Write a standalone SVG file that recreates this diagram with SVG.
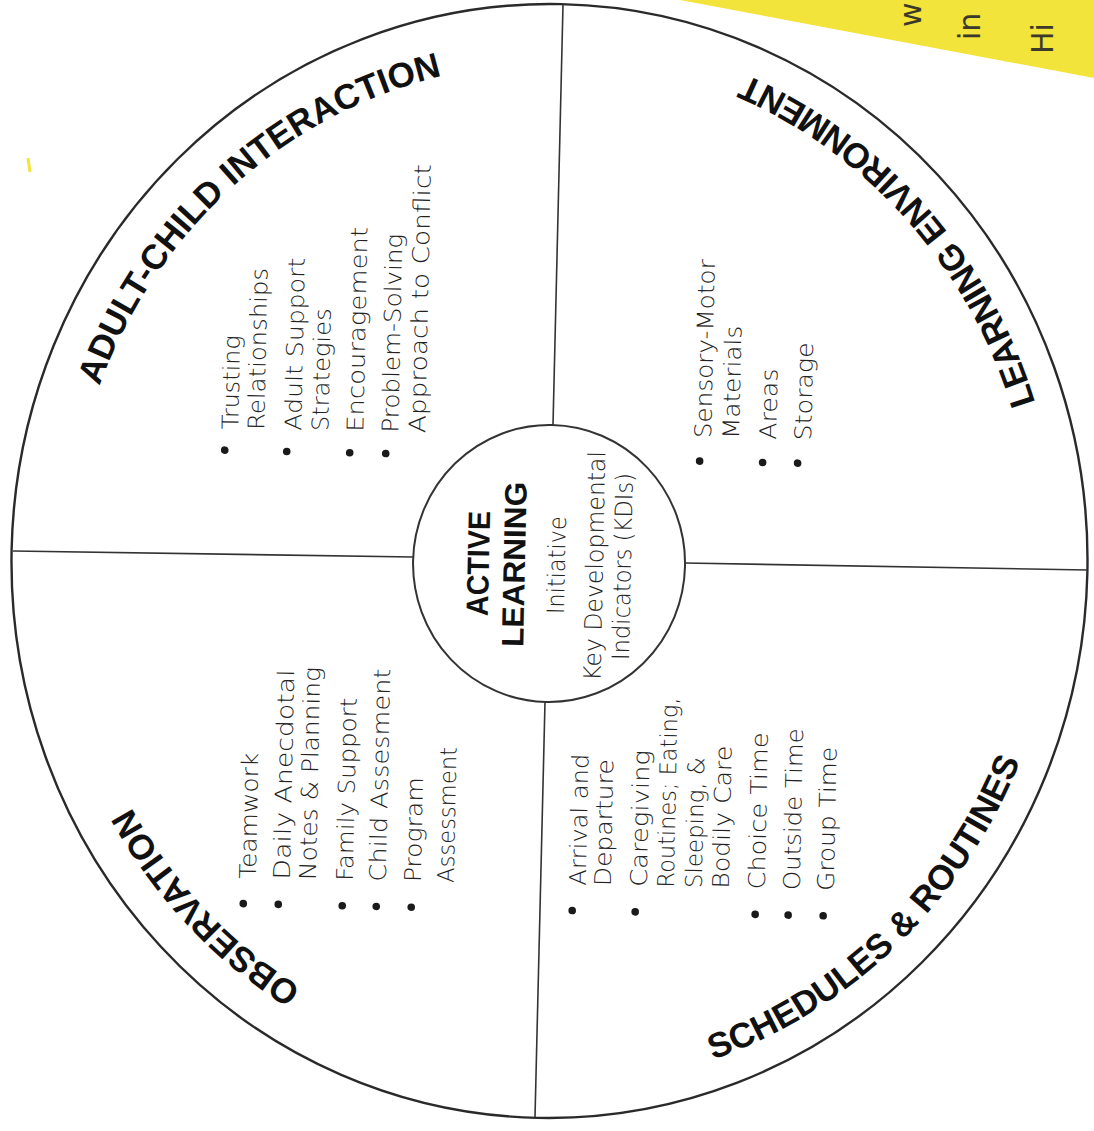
<svg xmlns="http://www.w3.org/2000/svg" width="1094" height="1131" viewBox="0 0 1094 1131">
<defs>
<style>
.ring{fill:none;stroke:#2a2a2a;stroke-width:2.4}
.inner{fill:none;stroke:#333;stroke-width:2}
.div{stroke:#333;stroke-width:1.6;fill:none}
.item{font-family:"DejaVu Sans","Liberation Sans",sans-serif;font-size:23px;font-weight:300;fill:#222}
.citem{font-family:"DejaVu Sans","Liberation Sans",sans-serif;font-size:24px;font-weight:300;fill:#222;text-anchor:middle}
.cbold{font-family:"Liberation Sans",Arial,sans-serif;font-size:31px;font-weight:bold;fill:#111;text-anchor:middle}
.title{font-family:"Liberation Sans",Arial,sans-serif;font-size:35px;font-weight:bold;fill:#111}
.dot{fill:#1a1a1a}
.hand{font-family:"DejaVu Sans",sans-serif;font-size:30px;font-weight:normal;fill:#3b3a2a}
</style>
<path id="p-adult" d="M -480.7 17.4 A 481 497.8 0 0 1 66.9 -493.0"/>
<path id="p-obs" d="M 41.9 495.8 A 481 497.8 0 0 1 -480.3 -26.1"/>
<path id="p-learn" d="M 506.2 55.1 A 509 526.8 0 0 0 -35.5 -525.5"/>
<path id="p-sched" d="M -53.2 523.9 A 509 526.8 0 0 0 507.8 -36.7"/>
</defs>
<rect width="1094" height="1131" fill="#ffffff"/>
<g id="sticky-note">
<polygon points="680,0 1094,0 1094,78" fill="#f3e43c"/>
<text class="hand" transform="translate(921 27) rotate(-90)">w</text>
<text class="hand" transform="translate(980 40) rotate(-90)">in</text>
<text class="hand" transform="translate(1053 54) rotate(-90)">Hi</text>
<path d="M28 158 L30 172" stroke="#f3e43c" stroke-width="3" fill="none"/>
</g>
<g id="wheel-outline" transform="translate(549.5 561) rotate(1.2)">
<ellipse class="ring" cx="0" cy="0" rx="538" ry="557"/>
</g>
<g id="connectors">
<line class="div" x1="563" y1="5" x2="553" y2="425"/>
<line class="div" x1="545" y1="702" x2="535" y2="1117"/>
<line class="div" x1="13" y1="551" x2="413" y2="557"/>
<line class="div" x1="685" y1="563" x2="1087" y2="570"/>
</g>
<g id="active-learning" transform="translate(549.5 561) rotate(1.2)">
<ellipse class="inner" cx="-0.4" cy="2.5" rx="136" ry="138.5"/>
<g transform="rotate(-90)">
<text class="cbold" x="-4" y="-60.5" textLength="105" lengthAdjust="spacingAndGlyphs">ACTIVE</text>
<text class="cbold" x="-4" y="-24.5" textLength="165" lengthAdjust="spacingAndGlyphs">LEARNING</text>
<text class="citem" x="-4" y="15.5" textLength="98" lengthAdjust="spacingAndGlyphs">Initiative</text>
<text class="citem" x="-4" y="53.5" textLength="230" lengthAdjust="spacingAndGlyphs">Key Developmental</text>
<text class="citem" x="-4" y="81.5" textLength="187" lengthAdjust="spacingAndGlyphs">Indicators (KDIs)</text>
</g>
</g>
<g id="adult-child-interaction" transform="translate(549.5 561) rotate(1.2)">
<text class="title"><textPath href="#p-adult" startOffset="50%" text-anchor="middle">ADULT-CHILD INTERACTION</textPath></text>
<g transform="rotate(-90)">
<circle class="dot" cx="104" cy="-327" r="3.8"/>
<circle class="dot" cx="104" cy="-265" r="3.8"/>
<circle class="dot" cx="104" cy="-202" r="3.8"/>
<circle class="dot" cx="104" cy="-166" r="3.8"/>
<text class="item" x="125" y="-314" textLength="94" lengthAdjust="spacingAndGlyphs">Trusting</text>
<text class="item" x="125" y="-288" textLength="162" lengthAdjust="spacingAndGlyphs">Relationships</text>
<text class="item" x="125" y="-251" textLength="173" lengthAdjust="spacingAndGlyphs">Adult Support</text>
<text class="item" x="125" y="-224" textLength="123" lengthAdjust="spacingAndGlyphs">Strategies</text>
<text class="item" x="125" y="-189" textLength="205" lengthAdjust="spacingAndGlyphs">Encouragement</text>
<text class="item" x="125" y="-154" textLength="199" lengthAdjust="spacingAndGlyphs">Problem-Solving</text>
<text class="item" x="125" y="-127" textLength="269" lengthAdjust="spacingAndGlyphs">Approach to Conflict</text>
</g>
</g>
<g id="learning-environment" transform="translate(549.5 561) rotate(1.2)">
<text class="title"><textPath href="#p-learn" startOffset="50%" text-anchor="middle">LEARNING ENVIRONMENT</textPath></text>
<g transform="rotate(-90)">
<circle class="dot" cx="103" cy="148" r="3.8"/>
<circle class="dot" cx="103" cy="211" r="3.8"/>
<circle class="dot" cx="103" cy="246" r="3.8"/>
<text class="item" x="126" y="159" textLength="179" lengthAdjust="spacingAndGlyphs">Sensory-Motor</text>
<text class="item" x="126" y="187" textLength="113" lengthAdjust="spacingAndGlyphs">Materials</text>
<text class="item" x="126" y="224" textLength="71" lengthAdjust="spacingAndGlyphs">Areas</text>
<text class="item" x="126" y="259" textLength="98" lengthAdjust="spacingAndGlyphs">Storage</text>
</g>
</g>
<g id="observation" transform="translate(549.5 561) rotate(1.2)">
<text class="title"><textPath href="#p-obs" startOffset="50%" text-anchor="middle">OBSERVATION</textPath></text>
<g transform="rotate(-90)">
<circle class="dot" cx="-349" cy="-299" r="3.8"/>
<circle class="dot" cx="-349" cy="-264" r="3.8"/>
<circle class="dot" cx="-349" cy="-200" r="3.8"/>
<circle class="dot" cx="-349" cy="-166" r="3.8"/>
<circle class="dot" cx="-349" cy="-131" r="3.8"/>
<text class="item" x="-324" y="-287" textLength="126" lengthAdjust="spacingAndGlyphs">Teamwork</text>
<text class="item" x="-324" y="-253" textLength="210" lengthAdjust="spacingAndGlyphs">Daily Anecdotal</text>
<text class="item" x="-324" y="-227" textLength="213" lengthAdjust="spacingAndGlyphs">Notes &amp; Planning</text>
<text class="item" x="-324" y="-190" textLength="183" lengthAdjust="spacingAndGlyphs">Family Support</text>
<text class="item" x="-324" y="-157" textLength="213" lengthAdjust="spacingAndGlyphs">Child Assesment</text>
<text class="item" x="-324" y="-122" textLength="105" lengthAdjust="spacingAndGlyphs">Program</text>
<text class="item" x="-324" y="-89" textLength="136" lengthAdjust="spacingAndGlyphs">Assessment</text>
</g>
</g>
<g id="schedules-routines" transform="translate(549.5 561) rotate(1.2)">
<text class="title"><textPath href="#p-sched" startOffset="50%" text-anchor="middle">SCHEDULES &amp; ROUTINES</textPath></text>
<g transform="rotate(-90)">
<circle class="dot" cx="-349" cy="30" r="3.8"/>
<circle class="dot" cx="-349" cy="93" r="3.8"/>
<circle class="dot" cx="-349" cy="213" r="3.8"/>
<circle class="dot" cx="-349" cy="246" r="3.8"/>
<circle class="dot" cx="-349" cy="281" r="3.8"/>
<text class="item" x="-324" y="43" textLength="132" lengthAdjust="spacingAndGlyphs">Arrival and</text>
<text class="item" x="-324" y="68" textLength="127" lengthAdjust="spacingAndGlyphs">Departure</text>
<text class="item" x="-324" y="104" textLength="137" lengthAdjust="spacingAndGlyphs">Caregiving</text>
<text class="item" x="-324" y="131" textLength="190" lengthAdjust="spacingAndGlyphs">Routines; Eating,</text>
<text class="item" x="-324" y="159" textLength="131" lengthAdjust="spacingAndGlyphs">Sleeping, &amp;</text>
<text class="item" x="-324" y="186" textLength="143" lengthAdjust="spacingAndGlyphs">Bodily Care</text>
<text class="item" x="-324" y="222" textLength="157" lengthAdjust="spacingAndGlyphs">Choice Time</text>
<text class="item" x="-324" y="257" textLength="162" lengthAdjust="spacingAndGlyphs">Outside Time</text>
<text class="item" x="-324" y="291" textLength="144" lengthAdjust="spacingAndGlyphs">Group Time</text>
</g>
</g>
</svg>
